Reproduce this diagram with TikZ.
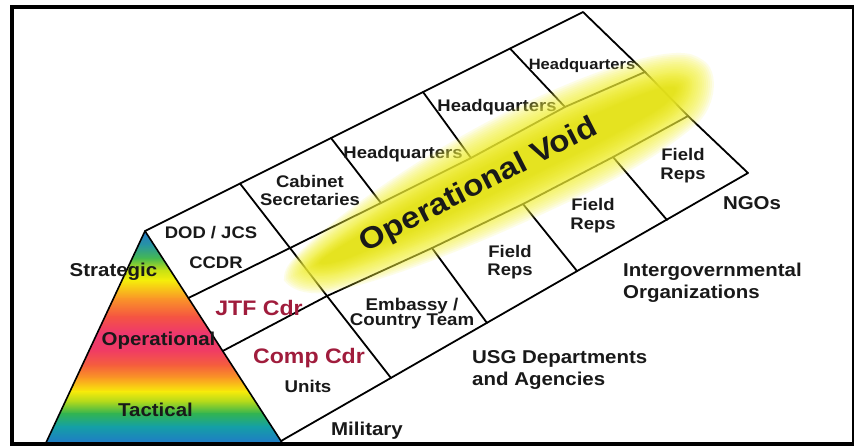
\documentclass[tikz,border=0pt]{standalone}
\usepackage{fontspec}
\setmainfont{Liberation Sans}[FakeStretch=1.1]
\definecolor{txt}{RGB}{25,25,25}
\definecolor{cdr}{RGB}{160,28,60}
\definecolor{glowA}{RGB}{246,244,60}
\definecolor{glowB}{RGB}{218,216,0}
\definecolor{tc1}{RGB}{35,115,205}
\definecolor{tc2}{RGB}{40,150,160}
\definecolor{tc3}{RGB}{70,185,80}
\definecolor{tc4}{RGB}{200,225,20}
\definecolor{tc5}{RGB}{245,238,10}
\definecolor{tc6}{RGB}{250,150,40}
\definecolor{tc7}{RGB}{245,85,65}
\definecolor{tc8}{RGB}{238,55,110}
\definecolor{tc9}{RGB}{240,60,100}
\definecolor{tc10}{RGB}{245,95,60}
\definecolor{tc11}{RGB}{250,155,35}
\definecolor{tc12}{RGB}{248,235,10}
\definecolor{tc13}{RGB}{170,215,30}
\definecolor{tc14}{RGB}{50,180,80}
\definecolor{tc15}{RGB}{20,160,165}
\definecolor{tc16}{RGB}{35,110,210}
\tikzset{
  gridline/.style={line width=1.8pt, line join=round, line cap=round, black},
  celltext/.style={font=\fontsize{16.8}{18}\selectfont\bfseries, text=txt, inner sep=0pt, anchor=base},
  cdrtext/.style={font=\fontsize{21}{23}\selectfont\bfseries, text=cdr, inner sep=0pt, anchor=base},
  labtext/.style={font=\fontsize{18.6}{20}\selectfont\bfseries, text=txt, inner sep=0pt, anchor=base},
  labwest/.style={labtext, anchor=base west},
}
\begin{document}
\begin{tikzpicture}[x=1pt,y=-1pt]
\useasboundingbox (0,0) rectangle (854,445);
\fill[white] (0,0) rectangle (854,445);
% key points
\coordinate (T0) at (145,231);
\coordinate (T1) at (240,183.5);
\coordinate (T2) at (331,138);
\coordinate (T3) at (423,92);
\coordinate (T4) at (510,48.5);
\coordinate (T5) at (583,12);
\coordinate (R0) at (188.4,298);
\coordinate (R1) at (290,248);
\coordinate (R2) at (381,203);
\coordinate (R3) at (471,158);
\coordinate (R4) at (565,107);
\coordinate (R5) at (645,72);
\coordinate (S0) at (222.7,351);
\coordinate (S1) at (327,296);
\coordinate (S2) at (432,248);
\coordinate (S3) at (523,204);
\coordinate (S4) at (613,157);
\coordinate (S5) at (688,116);
\coordinate (B0) at (281,441);
\coordinate (B1) at (391,378);
\coordinate (B2) at (487,323);
\coordinate (B3) at (577,271);
\coordinate (B4) at (667,220);
\coordinate (B5) at (748,173);
\coordinate (TL) at (44,447);
\coordinate (TR) at (284.9,447);
% rainbow triangle
\begin{scope}
  \clip (T0) -- (TL) -- (TR) -- cycle;
  \foreach \ya/\yb/\ca/\cb in {229/245/tc1/tc2, 245/258/tc2/tc3, 258/270/tc3/tc4, 270/280/tc4/tc5,
      280/298/tc5/tc6, 298/316/tc6/tc7, 316/333/tc7/tc8, 333/350/tc8/tc9, 350/365/tc9/tc10,
      365/378/tc10/tc11, 378/391/tc11/tc12, 391/402/tc12/tc13, 402/413/tc13/tc14,
      413/426/tc14/tc15, 426/448/tc15/tc16}
    \shade[top color=\ca, bottom color=\cb] (40,\ya) rectangle (290,\yb+0.7);
\end{scope}
\draw[line width=1.6pt, line join=round] (TL) -- (T0) -- (TR);
% grid
\draw[gridline] (T0) -- (T5) -- (R5) -- (S5) -- (B5) -- (B0);
\draw[gridline] (R0) -- (R1) -- (R2) -- (R3) -- (R4) -- (R5);
\draw[gridline] (S0) -- (S1) -- (S2) -- (S3) -- (S4) -- (S5);
\draw[gridline] (T1) -- (R1) -- (S1) -- (B1);
\draw[gridline] (T2) -- (R2);
\draw[gridline] (T3) -- (R3);
\draw[gridline] (T4) -- (R4);
\draw[gridline] (S2) -- (B2);
\draw[gridline] (S3) -- (B3);
\draw[gridline] (S4) -- (B4);
% cell texts
\node[celltext] (dod) at (211,238) {DOD / JCS};
\node[celltext] (ccdr) at (216,268) {CCDR};
\node[celltext] (cab1) at (310,187) {Cabinet};
\node[celltext] (cab2) at (310,205) {Secretaries};
\node[celltext] (hq3) at (403,158) {Headquarters};
\node[celltext] (hq4) at (497,111) {Headquarters};
\node[celltext, font=\fontsize{15}{17}\selectfont\bfseries] (hq5) at (582,69) {Headquarters};
\node[cdrtext] (jtf) at (259,315) {JTF Cdr};
\node[cdrtext] (comp) at (309,363) {Comp Cdr};
\node[celltext, font=\fontsize{17}{19}\selectfont\bfseries] (units) at (308,392) {Units};
\node[celltext, font=\fontsize{17}{19}\selectfont\bfseries] (emb1) at (412,310) {Embassy /};
\node[celltext, font=\fontsize{17}{19}\selectfont\bfseries] (emb2) at (412,325) {Country Team};
\node[celltext] (f3a) at (510,257) {Field};
\node[celltext] (f3b) at (510,275) {Reps};
\node[celltext] (f4a) at (593,210) {Field};
\node[celltext] (f4b) at (593,229) {Reps};
\node[celltext] (f5a) at (683,160) {Field};
\node[celltext] (f5b) at (683,179) {Reps};
% glow (soft edge from many translucent layers)
\begin{scope}[shift={(496,177)}, rotate=26]
  \foreach \d in {10,8,...,-30} {
    \pgfmathsetmacro\xs{1+(\d)/228}
    \pgfmathsetmacro\ys{1.1*(1+(\d)/44)}
    \pgfmathsetmacro\op{ifthenelse(\d>=-10,0.12,0.18)}
    \pgfmathtruncatemacro\mx{max(30,min(100,100+2.5*\d))}
    \fill[glowA!\mx!glowB, opacity=\op, xscale=\xs, yscale=\ys]
      (-226,0) .. controls (-222,-7) and (-215,-10) .. (-200,-14)
      .. controls (-150,-27) and (-60,-39) .. (40,-40)
      .. controls (130,-40) and (200,-32) .. (220,-18)
      .. controls (230,-10) and (231,-4) .. (230,0)
      .. controls (229,10) and (215,27) .. (190,31)
      .. controls (140,40) and (100,41) .. (40,40)
      .. controls (-60,39) and (-150,32) .. (-195,22)
      .. controls (-215,16) and (-224,8) .. (-226,0) -- cycle;
  }
\end{scope}
\node[font=\fontsize{30}{32}\selectfont\bfseries, text=txt, inner sep=0pt, rotate=27] (void) at (479,186) {Operational Void};
% outside labels
\node[labtext] (strat) at (113.5,276) {Strategic};
\node[labtext] (oper) at (158.5,345) {Operational};
\node[labtext] (tact) at (155.5,416) {Tactical};
\node[labtext] (mil) at (367,435) {Military};
\node[labwest] (usg1) at (472,363) {USG Departments};
\node[labwest] (usg2) at (472,385) {and Agencies};
\node[labwest] (igo1) at (623,276.5) {Intergovernmental};
\node[labwest] (igo2) at (623,298) {Organizations};
\node[labtext] (ngo) at (752,209) {NGOs};
% frame
\draw[line width=4pt] (12,7) rectangle (853.5,443.5);
\end{tikzpicture}
\end{document}
